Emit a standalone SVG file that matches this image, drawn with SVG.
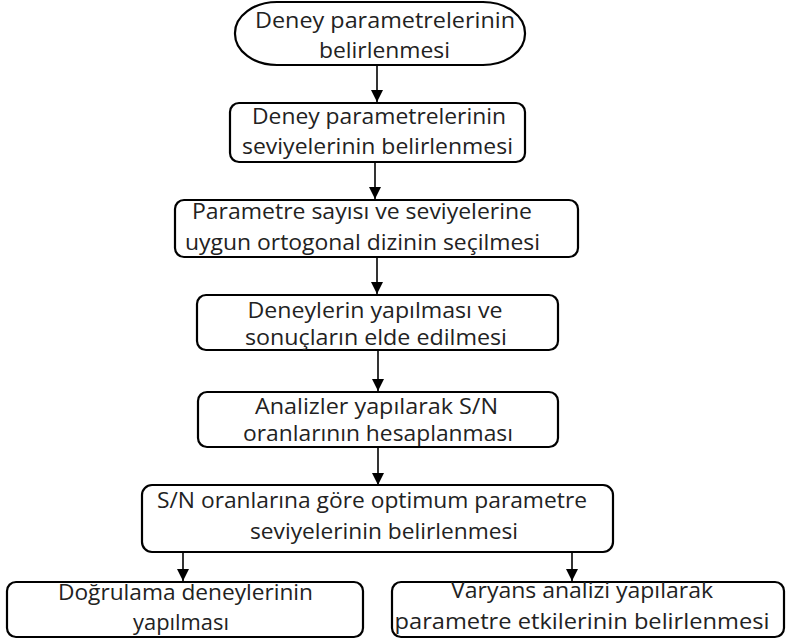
<svg xmlns="http://www.w3.org/2000/svg" width="789" height="641" viewBox="0 0 789 641">
<style>
.box{fill:#fff;stroke:#000;stroke-width:2.2}
.t{font-family:"Open Sans","Liberation Sans",sans-serif;font-size:21px;fill:#222;text-anchor:middle}
.c{stroke:#000;stroke-width:1.6;fill:none}
</style>
<defs>
<marker id="ah" markerUnits="userSpaceOnUse" markerWidth="12" markerHeight="13" refX="12" refY="6.5" orient="auto">
<path d="M0,0.5 L12,6.5 L0,12.5 z" fill="#000"/>
</marker>
</defs>
<rect width="789" height="641" fill="#fff"/>
<g id="connectors">
<line class="c" x1="377" y1="65" x2="377" y2="102" marker-end="url(#ah)"/>
<line class="c" x1="375" y1="162" x2="375" y2="199" marker-end="url(#ah)"/>
<line class="c" x1="377" y1="257" x2="377" y2="294" marker-end="url(#ah)"/>
<line class="c" x1="378" y1="350" x2="378" y2="391" marker-end="url(#ah)"/>
<line class="c" x1="378" y1="447" x2="378" y2="485" marker-end="url(#ah)"/>
<line class="c" x1="183" y1="552" x2="183" y2="581" marker-end="url(#ah)"/>
<line class="c" x1="572" y1="552" x2="572" y2="581" marker-end="url(#ah)"/>
</g>
<g id="n1">
<rect class="box" x="235" y="2" width="290" height="63" rx="42" ry="31"/>
<text class="t" x="385" y="28" textLength="260" lengthAdjust="spacingAndGlyphs">Deney parametrelerinin</text>
<text class="t" x="384.5" y="58" textLength="131" lengthAdjust="spacingAndGlyphs">belirlenmesi</text>
</g>
<g id="n2">
<rect class="box" x="230" y="103" width="295" height="59" rx="9"/>
<text class="t" x="379" y="124" textLength="254" lengthAdjust="spacingAndGlyphs">Deney parametrelerinin</text>
<text class="t" x="377.5" y="154" textLength="271" lengthAdjust="spacingAndGlyphs">seviyelerinin belirlenmesi</text>
</g>
<g id="n3">
<rect class="box" x="175" y="200" width="403" height="57" rx="9"/>
<text class="t" x="362" y="219" textLength="340" lengthAdjust="spacingAndGlyphs">Parametre sayısı ve seviyelerine</text>
<text class="t" x="362.5" y="250" textLength="355" lengthAdjust="spacingAndGlyphs">uygun ortogonal dizinin seçilmesi</text>
</g>
<g id="n4">
<rect class="box" x="197" y="295" width="361" height="55" rx="9"/>
<text class="t" x="375" y="318" textLength="255" lengthAdjust="spacingAndGlyphs">Deneylerin yapılması ve</text>
<text class="t" x="376" y="345" textLength="262" lengthAdjust="spacingAndGlyphs">sonuçların elde edilmesi</text>
</g>
<g id="n5">
<rect class="box" x="198" y="392" width="360" height="55" rx="9"/>
<text class="t" x="376.5" y="414" textLength="243" lengthAdjust="spacingAndGlyphs">Analizler yapılarak S/N</text>
<text class="t" x="378" y="441" textLength="270" lengthAdjust="spacingAndGlyphs">oranlarının hesaplanması</text>
</g>
<g id="n6">
<rect class="box" x="142" y="485" width="471" height="67" rx="10"/>
<text class="t" x="372" y="508" textLength="430" lengthAdjust="spacingAndGlyphs">S/N oranlarına göre optimum parametre</text>
<text class="t" x="384" y="539" textLength="268" lengthAdjust="spacingAndGlyphs">seviyelerinin belirlenmesi</text>
</g>
<g id="n7">
<rect class="box" x="7" y="582" width="356" height="55" rx="9"/>
<text class="t" x="185.5" y="600" textLength="255" lengthAdjust="spacingAndGlyphs">Doğrulama deneylerinin</text>
<text class="t" x="181" y="630" textLength="96" lengthAdjust="spacingAndGlyphs">yapılması</text>
</g>
<g id="n8">
<rect class="box" x="392" y="582" width="392" height="55" rx="9"/>
<text class="t" x="582" y="598" textLength="262" lengthAdjust="spacingAndGlyphs">Varyans analizi yapılarak</text>
<text class="t" x="582" y="629" textLength="375" lengthAdjust="spacingAndGlyphs">parametre etkilerinin belirlenmesi</text>
</g>
</svg>
